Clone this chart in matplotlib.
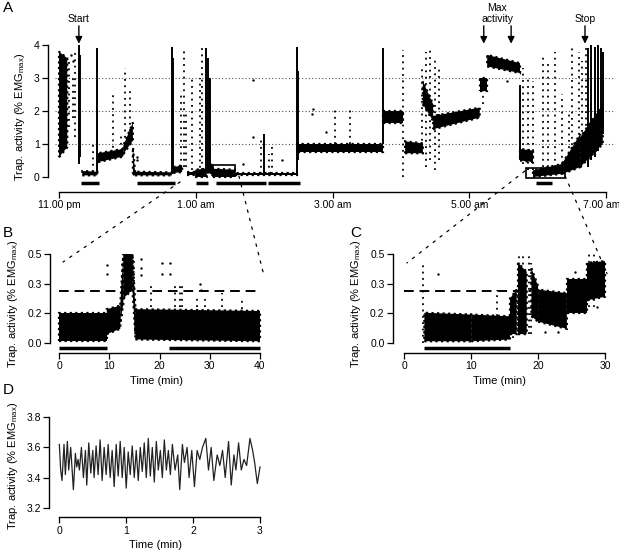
import matplotlib
matplotlib.use("Agg")
import matplotlib.pyplot as plt
import matplotlib.transforms as mtrans
from matplotlib.patches import Rectangle, ConnectionPatch

plt.rcParams['font.family'] = ['Liberation Sans', 'DejaVu Sans']
plt.rcParams['font.size'] = 7.5

W, H = 619, 550
YLABEL = "Trap. activity (% EMG$_{\\mathregular{max}}$)"

# ---- A: whole night, hours after 11 pm ----
A_ticks = [0, 2, 4, 6, 8]
A_ticklabels = ["11.00 pm", "1.00 am", "3.00 am", "5.00 am", "7.00 am"]
# bands of dense points: (t0, t1, lo0, hi0, lo1, hi1)
A_bands = [
    (0.00, 0.12, 0.6, 3.8, 0.9, 3.6),
    (0.34, 0.56, 0.05, 0.18, 0.05, 0.16),
    (0.57, 0.94, 0.45, 0.72, 0.62, 0.85),
    (0.94, 1.08, 0.70, 0.95, 1.10, 1.65),
    (1.08, 1.11, 0.10, 0.90, 0.05, 0.20),
    (1.11, 1.65, 0.05, 0.16, 0.05, 0.14),
    (1.67, 1.80, 0.12, 0.30, 0.15, 0.35),
    (1.87, 1.99, 0.05, 0.15, 0.05, 0.15),
    (1.99, 2.16, 0.00, 0.22, 0.00, 0.25),
    (2.16, 2.25, 0.15, 0.60, 0.05, 0.30),
    (2.25, 2.57, 0.00, 0.25, 0.00, 0.22),
    (2.57, 3.48, 0.05, 0.12, 0.05, 0.12),
    (3.49, 4.74, 0.75, 1.00, 0.75, 1.00),
    (4.74, 5.03, 1.65, 2.00, 1.65, 2.00),
    (5.06, 5.32, 0.72, 1.08, 0.72, 1.02),
    (5.32, 5.47, 2.20, 2.90, 1.70, 2.20),
    (5.47, 6.15, 1.45, 1.85, 1.80, 2.10),
    (6.15, 6.26, 2.60, 3.00, 2.60, 3.00),
    (6.26, 6.74, 3.35, 3.70, 3.15, 3.45),
    (6.74, 6.93, 0.50, 0.85, 0.45, 0.80),
    (6.93, 7.37, 0.00, 0.20, 0.10, 0.40),
    (7.37, 7.62, 0.10, 0.45, 0.30, 1.30),
    (7.62, 7.95, 0.30, 1.20, 1.00, 2.20),
]
A_dense = [
    (0.29, 0.4, 4.0), (0.31, 0.6, 3.7), (0.56, 0.1, 3.9), (1.65, 0.1, 3.95),
    (1.67, 0.2, 3.6), (2.15, 0.2, 3.9), (2.18, 0.3, 3.6), (2.20, 0.4, 3.0),
    (3.00, 0.1, 1.3), (3.48, 0.1, 3.95), (3.50, 0.5, 3.2), (4.74, 1.0, 3.9),
    (6.74, 0.5, 2.8), (7.73, 0.3, 3.9), (7.78, 0.5, 4.0), (7.83, 0.6, 3.95),
    (7.88, 0.8, 4.0), (7.92, 1.0, 3.9), (7.95, 1.3, 3.8),
]
A_sparse = [
    (0.15, 1.5, 3.5), (0.20, 1.8, 3.0), (0.24, 1.2, 3.8), (0.50, 0.15, 1.0),
    (0.79, 0.7, 2.5), (0.90, 0.8, 1.3), (0.96, 1.0, 3.3), (1.04, 1.4, 2.7),
    (1.78, 0.3, 2.6), (1.82, 0.3, 3.9), (1.85, 0.3, 2.0), (1.95, 0.2, 3.0),
    (2.06, 0.1, 3.0), (2.09, 0.2, 3.9), (2.96, 0.1, 1.2), (3.07, 0.1, 0.7),
    (3.12, 0.1, 0.9), (4.03, 1.0, 2.1), (4.26, 1.0, 2.1), (5.03, 0.0, 3.85),
    (5.30, 0.9, 3.3), (5.37, 0.3, 3.8), (5.42, 0.5, 3.9), (5.50, 0.2, 3.6),
    (5.55, 0.5, 3.3), (6.20, 2.2, 3.0), (6.78, 0.4, 3.3), (6.85, 0.2, 3.0),
    (6.93, 0.2, 2.9), (7.07, 0.3, 3.7), (7.15, 0.3, 3.5), (7.25, 0.3, 3.8),
    (7.35, 0.4, 2.5), (7.45, 0.3, 2.0), (7.50, 0.4, 3.9), (7.60, 0.5, 3.8),
    (7.65, 0.6, 3.5), (7.70, 0.8, 3.9),
]
A_pts_t = [0.18, 0.21, 1.14, 1.14, 2.69, 2.83, 2.83, 3.26, 3.70, 3.72, 3.90, 6.55]
A_pts_v = [3.70, 3.50, 0.50, 0.60, 0.40, 1.20, 2.95, 0.50, 1.90, 2.05, 1.35, 2.90]
A_bars = [(0.32, 0.58), (1.14, 1.70), (2.00, 2.18), (2.30, 3.03), (3.06, 3.52), (6.97, 7.21)]
A_arrow_t = [0.29, 6.21, 6.61, 7.69]
A_notes = [("Start", 0.29), ("Max\nactivity", 6.41), ("Stop", 7.69)]
A_boxes = [(2.25, 2.57, 0.04, 0.35), (6.83, 7.40, -0.03, 0.27)]

# ---- B: 40 min zoom ----
B_bands = [
    (0.0, 9.5, 0.01, 0.17, 0.01, 0.17),
    (9.5, 12.2, 0.05, 0.19, 0.08, 0.21),
    (12.2, 12.8, 0.12, 0.22, 0.22, 0.50),
    (12.8, 14.6, 0.25, 0.50, 0.30, 0.50),
    (14.6, 15.2, 0.30, 0.50, 0.05, 0.20),
    (15.2, 40.0, 0.02, 0.19, 0.01, 0.18),
]
B_sparse = [(12.6, 0.15, 0.45), (14.9, 0.2, 0.48), (18.4, 0.2, 0.32), (23.0, 0.2, 0.33),
            (24.0, 0.2, 0.33), (24.5, 0.2, 0.32), (27.5, 0.2, 0.27), (29.0, 0.2, 0.25),
            (32.5, 0.2, 0.28), (36.5, 0.19, 0.24)]
B_pts_t = [9.5, 9.5, 16.4, 16.4, 16.4, 20.4, 20.4, 22.1, 22.1, 28.0, 28.2]
B_pts_v = [0.44, 0.39, 0.47, 0.42, 0.38, 0.45, 0.39, 0.45, 0.39, 0.33, 0.30]
B_bars = [(0.0, 9.5), (21.8, 40.0)]
B_thresh = 0.295

# ---- C: 30 min zoom ----
C_bands = [
    (3.0, 10.0, 0.01, 0.17, 0.01, 0.16),
    (10.0, 15.8, 0.01, 0.16, 0.02, 0.15),
    (15.8, 16.8, 0.05, 0.25, 0.05, 0.30),
    (17.0, 18.3, 0.05, 0.45, 0.05, 0.40),
    (19.0, 20.0, 0.15, 0.42, 0.12, 0.32),
    (20.0, 24.3, 0.12, 0.30, 0.08, 0.28),
    (24.3, 27.3, 0.17, 0.36, 0.17, 0.36),
    (27.3, 30.0, 0.24, 0.45, 0.26, 0.46),
]
C_sparse = [(2.8, 0.0, 0.46), (13.8, 0.15, 0.30), (16.3, 0.03, 0.25), (17.2, 0.05, 0.49),
            (17.8, 0.05, 0.49), (18.6, 0.05, 0.49), (19.0, 0.05, 0.45), (27.6, 0.2, 0.5),
            (28.3, 0.2, 0.5)]
C_pts_t = [5.1, 21.0, 23.0, 25.5, 28.8]
C_pts_v = [0.39, 0.06, 0.06, 0.40, 0.20]
C_bars = [(3.0, 15.8)]
C_thresh = 0.295
C_thresh_end = 19.0

# ---- D: 3 min trace at max activity ----
D_t = [0.00, 0.02, 0.04, 0.07, 0.09, 0.12, 0.14, 0.17, 0.21, 0.24, 0.26, 0.28, 0.30,
       0.33, 0.36, 0.39, 0.41, 0.44, 0.47, 0.50, 0.52, 0.55, 0.58, 0.61, 0.64, 0.67,
       0.70, 0.73, 0.76, 0.79, 0.82, 0.85, 0.88, 0.91, 0.94, 0.97, 1.00, 1.03, 1.06,
       1.09, 1.12, 1.15, 1.18, 1.21, 1.24, 1.27, 1.30, 1.33, 1.36, 1.39, 1.42, 1.45,
       1.48, 1.51, 1.54, 1.57, 1.60, 1.63, 1.66, 1.69, 1.73, 1.77, 1.80, 1.84, 1.87,
       1.91, 1.94, 1.98, 2.02, 2.06, 2.10, 2.14, 2.19, 2.23, 2.27, 2.31, 2.36, 2.40,
       2.44, 2.48, 2.53, 2.57, 2.61, 2.64, 2.68, 2.72, 2.76, 2.80, 2.85, 2.89, 2.92,
       2.96, 3.00]
D_v = [3.62, 3.45, 3.38, 3.62, 3.42, 3.64, 3.45, 3.60, 3.32, 3.56, 3.47, 3.52, 3.45,
       3.60, 3.40, 3.58, 3.35, 3.63, 3.43, 3.58, 3.40, 3.61, 3.42, 3.65, 3.38, 3.60,
       3.42, 3.62, 3.40, 3.58, 3.34, 3.62, 3.41, 3.64, 3.40, 3.60, 3.33, 3.57, 3.42,
       3.61, 3.40, 3.58, 3.38, 3.60, 3.44, 3.63, 3.40, 3.66, 3.41, 3.60, 3.37, 3.64,
       3.45, 3.58, 3.40, 3.65, 3.45, 3.58, 3.42, 3.62, 3.45, 3.55, 3.32, 3.62, 3.50,
       3.60, 3.40, 3.58, 3.34, 3.58, 3.52, 3.60, 3.66, 3.45, 3.60, 3.38, 3.55, 3.48,
       3.58, 3.40, 3.64, 3.35, 3.55, 3.45, 3.63, 3.45, 3.52, 3.48, 3.66, 3.58, 3.50,
       3.36, 3.47]


def add_ax(fig, x0, y0, x1, y1):
    # pixel box -> figure fraction
    return fig.add_axes([x0 / W, 1 - y1 / H, (x1 - x0) / W, (y1 - y0) / H])


def style(ax, xb, yb):
    for s in ("top", "right"):
        ax.spines[s].set_visible(False)
    ax.spines["left"].set_bounds(*yb)
    ax.spines["bottom"].set_bounds(*xb)
    for s in ("left", "bottom"):
        ax.spines[s].set_linewidth(1.0)
    ax.tick_params(direction="out", length=4, width=0.9, labelsize=7.5, pad=2)


def draw_cloud(ax, bands, sparse, dense, pts_t, pts_v):
    # dense runs of points as filled bands with a ragged dotted rim
    for t0, t1, lo0, hi0, lo1, hi1 in bands:
        ax.fill([t0, t1, t1, t0], [lo0, lo1, hi1, hi0], fc="black", ec="black",
                lw=1.6, ls=(0, (1, 1.5)))
    for t, lo, hi in dense:
        ax.vlines(t, lo, hi, colors="black", lw=1.4)
    for t, lo, hi in sparse:
        ax.vlines(t, lo, hi, colors="black", lw=1.3, linestyles=(0, (1, 2.5)))
    ax.scatter(pts_t, pts_v, s=3, c="black", lw=0)


fig = plt.figure(figsize=(W / 100, H / 100), dpi=100)

# panel A
axA = add_ax(fig, 48.1, 41.7, 614.4, 192)
axA.set_xlim(-0.16, 8.12)
axA.set_ylim(-0.455, 4.1)
style(axA, (0, 8), (0, 4))
for g in (1, 2, 3):
    axA.axhline(g, xmin=0.013, color="#555555", lw=0.8, ls=(0, (1, 2)), zorder=0)
draw_cloud(axA, A_bands, A_sparse, A_dense, A_pts_t, A_pts_v)
for t0, t1 in A_bars:
    axA.plot([t0, t1], [-0.18, -0.18], color="black", lw=2.5, solid_capstyle="butt")
for t0, t1, lo, hi in A_boxes:
    axA.add_patch(Rectangle((t0, lo), t1 - t0, hi - lo, fill=False, ec="black", lw=1.2))
axA.set_yticks([0, 1, 2, 3, 4])
axA.set_xticks(A_ticks)
axA.set_xticklabels(A_ticklabels)
# pull the last time label a little inside the canvas
last = axA.get_xticklabels()[-1]
last.set_transform(last.get_transform() + mtrans.ScaledTranslation(-5 / 100, 0, fig.dpi_scale_trans))
axA.set_ylabel(YLABEL, fontsize=8, labelpad=5)
for t in A_arrow_t:
    axA.annotate("", xy=(t, 4.04), xytext=(t, 4.58), annotation_clip=False,
                 arrowprops=dict(arrowstyle="-|>", color="black", lw=1.0,
                                 mutation_scale=10, shrinkA=0, shrinkB=0))
for txt, t in A_notes:
    axA.text(t, 4.64, txt, ha="center", va="bottom", fontsize=7.5, linespacing=1.1,
             clip_on=False)

# panel B
axB = add_ax(fig, 50, 254, 263, 353)
axB.set_xlim(-1.8, 40.6)
axB.set_ylim(-0.056, 0.5)
style(axB, (0, 40), (0, 0.5))
draw_cloud(axB, B_bands, B_sparse, [], B_pts_t, B_pts_v)
axB.axhline(B_thresh, xmin=0.042, xmax=0.987, color="black", lw=1.4, ls=(0, (5, 3)))
for t0, t1 in B_bars:
    axB.plot([t0, t1], [-0.028, -0.028], color="black", lw=2.5, solid_capstyle="butt")
axB.set_yticks([0, 0.5 / 3, 1 / 3, 0.5])
axB.set_yticklabels(["0.0", "0.2", "0.3", "0.5"])
axB.set_xticks([0, 10, 20, 30, 40])
axB.set_xlabel("Time (min)", fontsize=8, labelpad=3)
axB.set_ylabel(YLABEL, fontsize=8, labelpad=5)

# panel C
axC = add_ax(fig, 392.9, 254, 607, 353)
axC.set_xlim(-1.7, 30.3)
axC.set_ylim(-0.056, 0.5)
style(axC, (0, 30), (0, 0.5))
draw_cloud(axC, C_bands, C_sparse, [], C_pts_t, C_pts_v)
axC.plot([0, C_thresh_end], [C_thresh, C_thresh], color="black", lw=1.4, ls=(0, (5, 3)))
for t0, t1 in C_bars:
    axC.plot([t0, t1], [-0.028, -0.028], color="black", lw=2.5, solid_capstyle="butt")
axC.set_yticks([0, 0.5 / 3, 1 / 3, 0.5])
axC.set_yticklabels(["0.0", "0.2", "0.3", "0.5"])
axC.set_xticks([0, 10, 20, 30])
axC.set_xlabel("Time (min)", fontsize=8, labelpad=3)
axC.set_ylabel(YLABEL, fontsize=8, labelpad=5)

# panel D
axD = add_ax(fig, 49.3, 414.3, 262, 517.3)
axD.set_xlim(-0.15, 3.03)
axD.set_ylim(3.136, 3.82)
style(axD, (0, 3), (3.2, 3.8))
axD.plot(D_t, D_v, color="#222222", lw=0.9)
axD.set_yticks([3.2, 3.4, 3.6, 3.8])
axD.set_xticks([0, 1, 2, 3])
axD.set_xlabel("Time (min)", fontsize=8, labelpad=3)
axD.set_ylabel(YLABEL, fontsize=8, labelpad=5)

# zoom connectors from A to B and C
links = [((1.77, -0.15), axB, (0.8, 0.455)), ((2.63, 0.03), axB, (40.6, 0.40)),
         ((6.81, 0.18), axC, (0.4, 0.45)), ((7.40, 0.03), axC, (30.3, 0.39))]
for pa, axX, pb in links:
    con = ConnectionPatch(xyA=pa, coordsA=axA.transData, xyB=pb, coordsB=axX.transData,
                          color="black", lw=0.9, ls=(0, (2, 5)))
    fig.add_artist(con)

for lab, x, y in [("A", 3, 8), ("B", 3, 233), ("C", 350, 233), ("D", 3, 390)]:
    fig.text(x / W, 1 - y / H, lab, fontsize=11, ha="left", va="center")

fig.savefig("out.png", dpi=100)
